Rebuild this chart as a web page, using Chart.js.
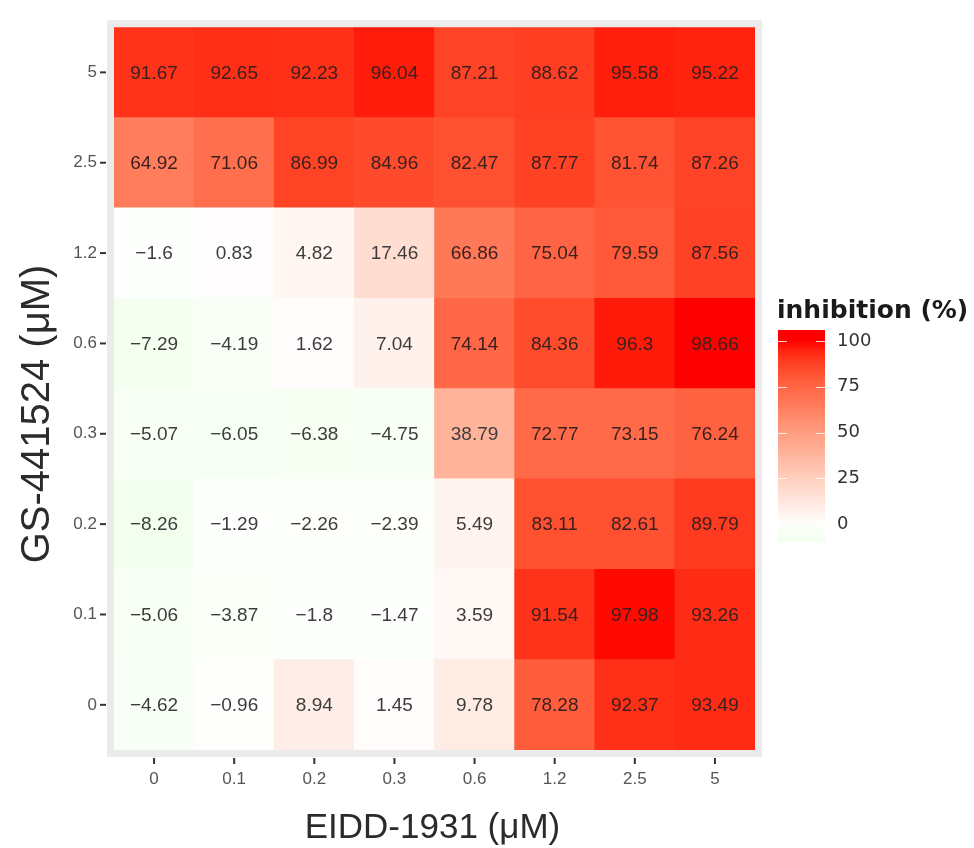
<!DOCTYPE html>
<html>
<head>
<meta charset="utf-8">
<script src="https://cdn.jsdelivr.net/npm/chart.js@4.4.1/dist/chart.umd.min.js"></script>
<style>
  html, body { margin: 0; padding: 0; background: #fff; }
  #wrap { width: 974px; height: 848px; }
</style>
</head>
<body>
<div id="wrap"><canvas id="heat"></canvas></div>
<script>
// EIDD-1931 concentrations (x) and GS-441524 concentrations (y, bottom to top)
const eiddLabels = ['0', '0.1', '0.2', '0.3', '0.6', '1.2', '2.5', '5'];
const gsLabels = ['0', '0.1', '0.2', '0.3', '0.6', '1.2', '2.5', '5'];

// inhibition (%) per GS-441524 row, across EIDD-1931 columns
const gs0   = [-4.62, -0.96, 8.94, 1.45, 9.78, 78.28, 92.37, 93.49];
const gs0_1 = [-5.06, -3.87, -1.8, -1.47, 3.59, 91.54, 97.98, 93.26];
const gs0_2 = [-8.26, -1.29, -2.26, -2.39, 5.49, 83.11, 82.61, 89.79];
const gs0_3 = [-5.07, -6.05, -6.38, -4.75, 38.79, 72.77, 73.15, 76.24];
const gs0_6 = [-7.29, -4.19, 1.62, 7.04, 74.14, 84.36, 96.3, 98.66];
const gs1_2 = [-1.6, 0.83, 4.82, 17.46, 66.86, 75.04, 79.59, 87.56];
const gs2_5 = [64.92, 71.06, 86.99, 84.96, 82.47, 87.77, 81.74, 87.26];
const gs5   = [91.67, 92.65, 92.23, 96.04, 87.21, 88.62, 95.58, 95.22];

const legendTicks = [0, 25, 50, 75, 100];

const rows = [gs0, gs0_1, gs0_2, gs0_3, gs0_6, gs1_2, gs2_5, gs5];
const allVals = rows.flat();
const maxAbs = Math.max(...allVals.map(v => Math.abs(v)));

// gradient2-like colour: green <- white (0) -> red, interpolated in Lab
const LAB_WHITE = [100, 0, 0];
const LAB_RED = [53.24, 80.09, 67.2];
const LAB_GREEN = [87.73, -86.18, 83.18];

function labToRgb(L, a, b) {
    const fy = (L + 16) / 116, fx = fy + a / 500, fz = fy - b / 200;
    const inv = t => t > 6 / 29 ? t * t * t : 3 * (6 / 29) * (6 / 29) * (t - 4 / 29);
    const X = 0.95047 * inv(fx), Y = inv(fy), Z = 1.08883 * inv(fz);
    let r = 3.2406 * X - 1.5372 * Y - 0.4986 * Z;
    let g = -0.9689 * X + 1.8758 * Y + 0.0415 * Z;
    let bl = 0.0557 * X - 0.2040 * Y + 1.0570 * Z;
    const gam = c => {
        c = c <= 0.0031308 ? 12.92 * c : 1.055 * Math.pow(c, 1 / 2.4) - 0.055;
        return Math.round(Math.min(1, Math.max(0, c)) * 255);
    };
    return `rgb(${gam(r)}, ${gam(g)}, ${gam(bl)})`;
}

function fillFor(v) {
    const t = Math.min(1, Math.abs(v) / maxAbs);
    const end = v >= 0 ? LAB_RED : LAB_GREEN;
    return labToRgb(
        LAB_WHITE[0] + (end[0] - LAB_WHITE[0]) * t,
        LAB_WHITE[1] + (end[1] - LAB_WHITE[1]) * t,
        LAB_WHITE[2] + (end[2] - LAB_WHITE[2]) * t
    );
}

function fmt(v) {
    return v < 0 ? '\u2212' + Math.abs(v) : String(v);
}

// each GS-441524 row is one stacked dataset of unit-height tiles
const datasets = rows.map((vals, i) => ({
    label: gsLabels[i],
    data: vals.map(() => 1),
    values: vals,
    backgroundColor: vals.map(fillFor),
    borderWidth: 0,
    barPercentage: 1,
    categoryPercentage: 1
}));

const panelPlugin = {
    id: 'panel',
    beforeDraw(chart) {
        const { ctx, chartArea: a } = chart;
        ctx.save();
        ctx.fillStyle = '#ebebeb';
        ctx.fillRect(a.left - 7, a.top - 7, a.right - a.left + 14, a.bottom - a.top + 14);
        ctx.restore();
    },
    afterDatasetsDraw(chart) {
        const { ctx, chartArea: a } = chart;
        ctx.save();
        // cell labels
        ctx.font = '19px "Liberation Sans", Arial, sans-serif';
        ctx.textAlign = 'center';
        ctx.textBaseline = 'middle';
        chart.data.datasets.forEach((ds, di) => {
            chart.getDatasetMeta(di).data.forEach((bar, i) => {
                const p = bar.getCenterPoint();
                ctx.fillStyle = ds.values[i] > 50 ? '#3a1f1f' : '#3d3d3d';
                ctx.fillText(fmt(ds.values[i]), p.x, p.y + 1);
            });
        });

        // tick marks outside the panel
        ctx.strokeStyle = '#333';
        ctx.lineWidth = 2;
        const xs = chart.scales.x, ys = chart.scales.y;
        xs.ticks.forEach((t, i) => {
            const x = xs.getPixelForTick(i);
            ctx.beginPath();
            ctx.moveTo(x, a.bottom + 8);
            ctx.lineTo(x, a.bottom + 14);
            ctx.stroke();
        });
        ys.ticks.forEach((t, i) => {
            const y = ys.getPixelForTick(i);
            ctx.beginPath();
            ctx.moveTo(a.left - 14, y);
            ctx.lineTo(a.left - 8, y);
            ctx.stroke();
        });

        // axis titles
        ctx.fillStyle = '#2b2b2b';
        ctx.font = '35px "Liberation Sans", Arial, sans-serif';
        ctx.textAlign = 'center';
        ctx.textBaseline = 'middle';
        ctx.fillText('EIDD-1931 (\u03bcM)', (a.left + a.right) / 2 - 2, 828);
        ctx.save();
        ctx.translate(38, 414);
        ctx.rotate(-Math.PI / 2);
        ctx.font = '40px "Liberation Sans", Arial, sans-serif';
        ctx.fillText('GS-441524 (\u03bcM)', 0, 0);
        ctx.restore();

        // colour bar legend
        const barL = 778, barR = 825, barT = 330, barB = 542;
        const y0 = 524, y100 = 341;
        const valToY = v => y0 + (y100 - y0) * v / 100;
        const vTop = (barT - y0) / (y100 - y0) * 100;
        const vBot = (barB - y0) / (y100 - y0) * 100;
        const grad = ctx.createLinearGradient(0, barB, 0, barT);
        for (let k = 0; k <= 20; k++) {
            const v = vBot + (vTop - vBot) * k / 20;
            grad.addColorStop(k / 20, fillFor(v));
        }
        ctx.fillStyle = grad;
        ctx.fillRect(barL, barT, barR - barL, barB - barT);
        ctx.strokeStyle = 'rgba(255,255,255,0.8)';
        ctx.lineWidth = 1;
        legendTicks.forEach(v => {
            const y = Math.round(valToY(v)) + 0.5;
            ctx.beginPath();
            ctx.moveTo(barL, y); ctx.lineTo(barL + 9, y);
            ctx.moveTo(barR - 9, y); ctx.lineTo(barR, y);
            ctx.stroke();
        });
        ctx.fillStyle = '#333';
        ctx.font = '18px "DejaVu Sans", sans-serif';
        ctx.textAlign = 'left';
        ctx.textBaseline = 'middle';
        legendTicks.forEach(v => ctx.fillText(String(v), 837, valToY(v)));
        ctx.fillStyle = '#1a1a1a';
        ctx.font = 'bold 25px "DejaVu Sans", sans-serif';
        ctx.textBaseline = 'alphabetic';
        ctx.fillText('inhibition (%)', 777, 318);
        ctx.restore();
    }
};

new Chart(document.getElementById('heat'), {
    type: 'bar',
    data: { labels: eiddLabels, datasets: datasets },
    options: {
        responsive: true,
        maintainAspectRatio: false,
        animation: false,
        layout: { padding: { left: 0, top: 16, right: 219, bottom: 0 } },
        scales: {
            x: {
                stacked: true,
                grid: { display: false, drawTicks: false },
                border: { display: false },
                ticks: {
                    color: '#555',
                    padding: 19,
                    font: { size: 17, family: '"Liberation Sans", Arial, sans-serif' }
                },
                afterFit: s => { s.height = 98; }
            },
            y: {
                stacked: true,
                min: 0,
                max: 8,
                grid: { display: false, drawTicks: false },
                border: { display: false },
                afterBuildTicks: s => { s.ticks = gsLabels.map((l, i) => ({ value: i + 0.5 })); },
                ticks: {
                    color: '#555',
                    padding: 17,
                    font: { size: 17, family: '"Liberation Sans", Arial, sans-serif' },
                    callback: (v, i) => gsLabels[i]
                },
                afterFit: s => { s.width = 114; }
            }
        },
        plugins: {
            legend: { display: false },
            tooltip: { enabled: false }
        }
    },
    plugins: [panelPlugin]
});
</script>
</body>
</html>
